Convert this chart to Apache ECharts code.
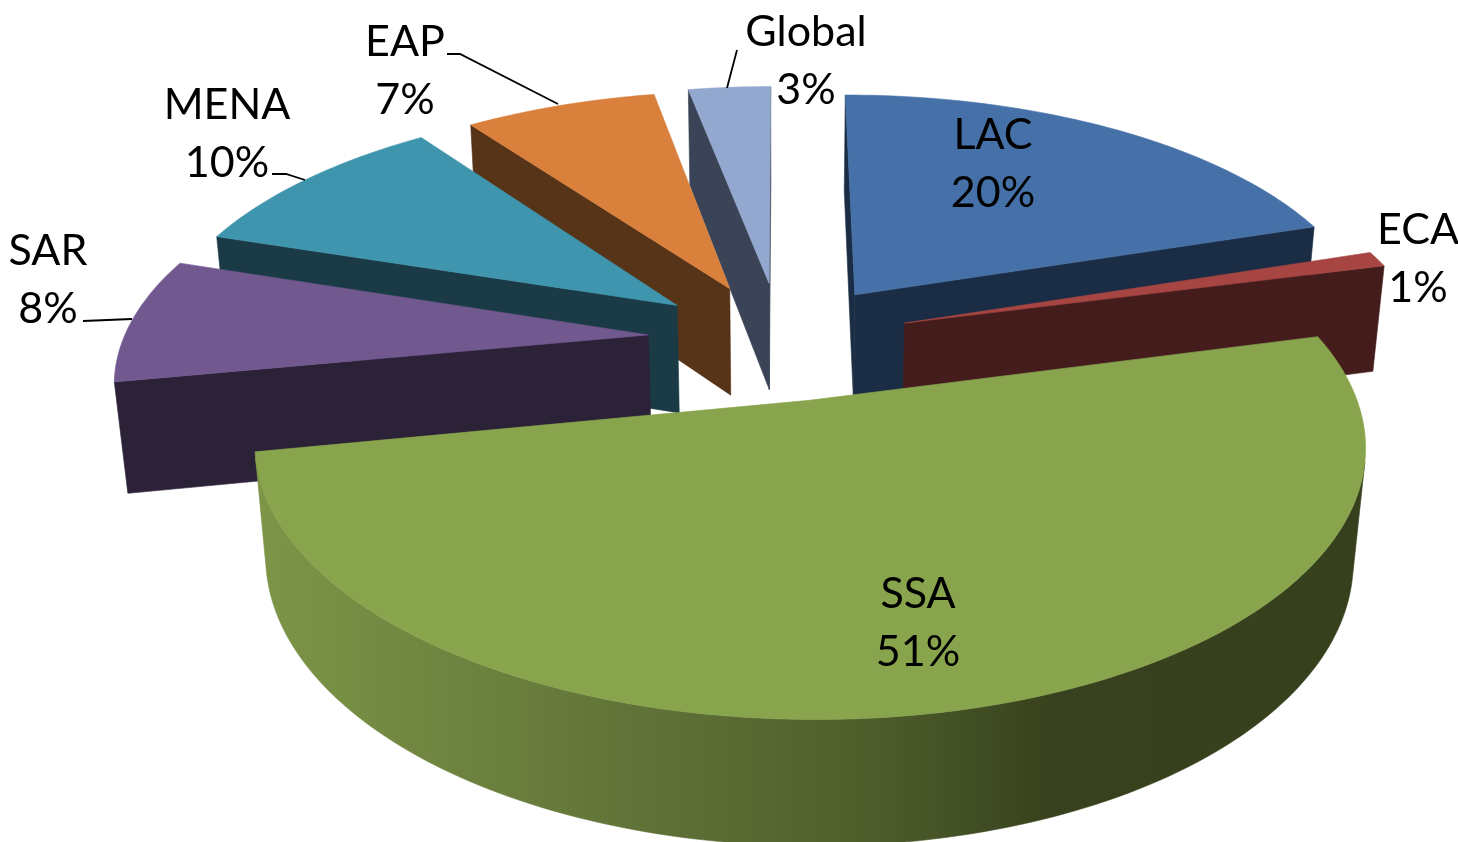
<!DOCTYPE html>
<html><head><meta charset="utf-8">
<style>html,body{margin:0;padding:0;background:#fff}#c{width:1458px;height:842px}</style>
<script src="https://cdn.jsdelivr.net/npm/echarts@6/dist/echarts.min.js"></script>
</head><body><div id="c"></div>
<script>
// data
var categories = ['LAC','ECA','SSA','SAR','MENA','EAP','Global'];
var values = [20,1,51,8,10,7,3];
// styles
var topColors = ['#4571a8','#a64542','#88a44d','#71588f','#4095ae','#d9803c','#93a8cf'];
var sideColors = ['#1b2d44','#441c1b','#5c6f33','#2c2238','#1a3b46','#573317','#3a4456'];
var paintOrder = [6,5,4,3,0,1,2];
var explode = [0.24,0.25,0.27,0.265,0.26,0.26,0.25];
var sliceShift = [[-2,2],[-5,1],[-8,-6],[2,0],[0,3],[-3,6],[-4,3]];
var labelPos = [[993,164],[1418,259],[918,623],[48,280],[227,134],[405,71],[806,61]];
var leaders = [null,null,null,[[83,321],[132,319]],[[272,174],[286,174],[305,180]],[[447,54],[460,54],[558,104]],[[737,50],[727,88]]];
// projection
var cam = {cx:785,cy:339,f:2940,D:5.6,elev:27.8*Math.PI/180,h:0.24};
function project(x,y,z){
  var c=Math.cos(cam.elev),s=Math.sin(cam.elev);
  var d=cam.D+y*c-z*s, u=y*s+z*c;
  return [cam.cx+cam.f*x/d, cam.cy-cam.f*u/d];
}
var total=values.reduce(function(a,b){return a+b;},0);
function area(p){var a=0;for(var i=0;i<p.length;i++){var q=p[(i+1)%p.length];a+=p[i][0]*q[1]-q[0]*p[i][1];}return a;}
function sliceShapes(i){
  var before=0;for(var k=0;k<i;k++)before+=values[k];
  var a1=before/total*2*Math.PI,a2=(before+values[i])/total*2*Math.PI,mid=(a1+a2)/2;
  var ox=explode[i]*Math.sin(mid),oy=explode[i]*Math.cos(mid);
  var P=function(a,r,z){var q=project(ox+r*Math.sin(a),oy+r*Math.cos(a),z);return [q[0]+sliceShift[i][0],q[1]+sliceShift[i][1]];};
  var n=Math.max(4,Math.ceil((a2-a1)/0.02)),topArc=[],botArc=[];
  for(var j=0;j<=n;j++){var a=a1+(a2-a1)*j/n;topArc.push(P(a,1,0));botArc.push(P(a,1,-cam.h));}
  var tipT=P(0,0,0),tipB=P(0,0,-cam.h);
  var out=[];
  var push=function(pts,fill){out.push({type:'polygon',shape:{points:pts},style:{fill:fill,stroke:fill,lineWidth:0.6}});};
  var cut1=[tipT,topArc[0],botArc[0],tipB],cut2=[tipT,topArc[n],botArc[n],tipB];
  if(area(cut1)<0)push(cut1,sideColors[i]);
  if(area(cut2)>0)push(cut2,sideColors[i]);
  var wallFill=sideColors[i];
  if(categories[i]==='SSA'){
    wallFill=new echarts.graphic.LinearGradient(260,0,1365,0,[
      {offset:0,color:'#7d9547'},{offset:0.3,color:'#64773a'},{offset:0.55,color:'#4e5e2b'},{offset:0.72,color:'#37411d'},{offset:1,color:'#36401c'}],true);
  }
  var run=[];
  var flush=function(){if(run.length){var t=run.map(function(q){return topArc[q];}),b=run.map(function(q){return botArc[q];}).reverse();push(t.concat(b),wallFill);run=[];}};
  for(j=0;j<n;j++){
    var quad=[topArc[j],topArc[j+1],botArc[j+1],botArc[j]];
    if(area(quad)<0){if(!run.length)run.push(j);run.push(j+1);}else flush();
  }
  flush();
  push([tipT].concat(topArc),topColors[i]);
  return out;
}
var chart=echarts.init(document.getElementById('c'),null,{renderer:'canvas'});
chart.setOption({
  animation:false,
  backgroundColor:'#fff',
  series:[
    {type:'custom',coordinateSystem:'none',silent:true,z:1,
     data:paintOrder.map(function(i){return [i,values[i]];}),
     renderItem:function(params,api){return {type:'group',children:sliceShapes(api.value(0))};}},
    {type:'custom',coordinateSystem:'none',silent:true,z:2,
     data:categories.map(function(c,i){return [i,values[i]];}),
     renderItem:function(params,api){
       var i=api.value(0),kids=[];
       if(leaders[i])kids.push({type:'polyline',shape:{points:leaders[i]},style:{stroke:'#000',lineWidth:1.8,fill:null}});
       kids.push({type:'text',x:labelPos[i][0],y:labelPos[i][1],style:{text:categories[i]+'\n'+api.value(1)+'%',fill:'#000',
         font:'43px Lato',lineHeight:58,align:'center',verticalAlign:'middle'}});
       return {type:'group',children:kids};
     }}
  ]
});
</script></body></html>
